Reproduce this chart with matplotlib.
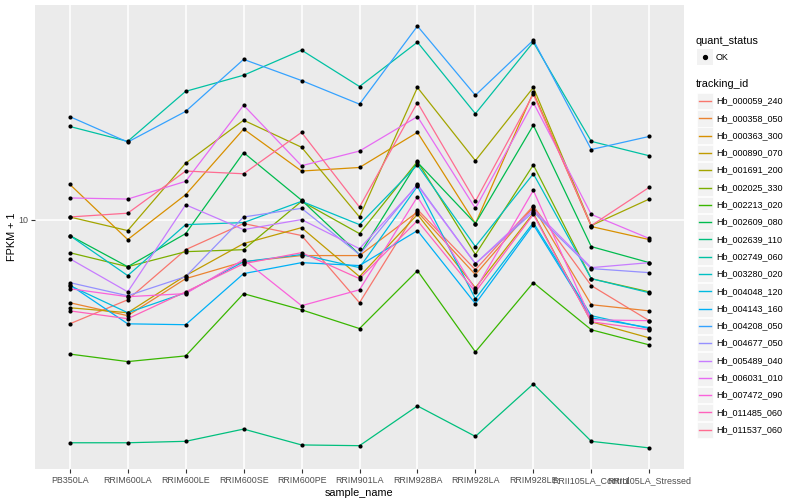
import matplotlib.pyplot as plt
import numpy as np
from matplotlib.lines import Line2D
from matplotlib.patches import Rectangle

plt.rcParams['font.family'] = ['Liberation Sans', 'DejaVu Sans']

# Samples on the x axis
samples = ['PB350LA', 'RRIM600LA', 'RRIM600LE', 'RRIM600SE', 'RRIM600PE',
           'RRIM901LA', 'RRIM928BA', 'RRIM928LA', 'RRIM928LE',
           'RRII105LA_Control', 'RRII105LA_Stressed']

tracking_ids = ['Hb_000059_240', 'Hb_000358_050', 'Hb_000363_300', 'Hb_000890_070',
                'Hb_001691_200', 'Hb_002025_330', 'Hb_002213_020', 'Hb_002609_080',
                'Hb_002639_110', 'Hb_002749_060', 'Hb_003280_020', 'Hb_004048_120',
                'Hb_004143_160', 'Hb_004208_050', 'Hb_004677_050', 'Hb_005489_040',
                'Hb_006031_010', 'Hb_007472_090', 'Hb_011485_060', 'Hb_011537_060']

# FPKM + 1 per gene, one value per sample
hb_000059_240 = [4.50, 5.41, 7.94, 9.70, 8.85, 5.29, 10.8, 6.81, 11.1, 6.03, 4.61]
hb_000358_050 = [5.29, 4.79, 6.36, 7.24, 7.59, 7.59, 10.6, 6.56, 11.0, 5.21, 4.97]
hb_000363_300 = [13.1, 8.58, 12.1, 20.0, 14.5, 14.9, 19.5, 9.70, 26.5, 9.48, 8.58]
hb_000890_070 = [5.09, 4.90, 6.51, 8.32, 9.40, 6.46, 10.4, 5.93, 10.5, 4.57, 4.04]
hb_001691_200 = [10.2, 9.19, 15.4, 21.4, 17.4, 10.2, 27.5, 15.7, 27.5, 9.55, 11.7]
hb_002025_330 = [7.76, 6.97, 7.82, 7.94, 11.5, 8.98, 15.6, 7.65, 15.2, 6.36, 5.75]
hb_002213_020 = [3.57, 3.37, 3.52, 5.67, 5.01, 4.34, 6.76, 3.63, 6.17, 4.30, 3.83]
hb_002609_080 = [8.85, 6.97, 8.98, 16.7, 11.6, 7.65, 15.5, 9.70, 20.6, 8.13, 7.19]
hb_002639_110 = [1.81, 1.81, 1.83, 2.01, 1.78, 1.77, 2.40, 1.90, 2.84, 1.83, 1.74]
hb_002749_060 = [20.4, 18.2, 26.7, 30.2, 36.6, 27.7, 38.9, 22.5, 38.9, 18.2, 16.3]
hb_003280_020 = [8.85, 6.51, 9.62, 9.77, 11.5, 9.62, 15.2, 8.13, 14.2, 6.36, 5.71]
hb_004048_120 = [6.03, 4.90, 5.71, 7.24, 7.65, 6.92, 12.9, 5.45, 9.77, 4.79, 4.34]
hb_004143_160 = [6.07, 4.50, 4.47, 6.61, 7.19, 7.03, 9.19, 5.25, 9.62, 4.71, 4.37]
hb_004208_050 = [22.0, 18.1, 22.9, 34.1, 29.0, 24.2, 44.0, 25.9, 39.5, 17.1, 18.9]
hb_004677_050 = [6.17, 5.58, 6.46, 10.2, 10.9, 7.65, 13.1, 7.13, 10.6, 6.87, 6.66]
hb_005489_040 = [7.41, 5.75, 11.2, 9.26, 10.0, 8.00, 13.0, 7.13, 10.8, 6.92, 7.19]
hb_006031_010 = [11.8, 11.7, 13.4, 24.0, 15.1, 16.9, 22.0, 10.9, 24.5, 10.4, 8.65]
hb_007472_090 = [5.89, 5.54, 5.67, 7.36, 5.17, 5.84, 11.9, 5.84, 12.5, 4.64, 4.61]
hb_011485_060 = [4.97, 4.68, 5.75, 7.13, 7.76, 6.36, 9.92, 5.75, 10.4, 4.57, 4.30]
hb_011537_060 = [10.2, 10.5, 14.5, 14.2, 19.5, 11.0, 24.5, 11.5, 26.1, 9.55, 12.8]

series = [hb_000059_240, hb_000358_050, hb_000363_300, hb_000890_070, hb_001691_200,
          hb_002025_330, hb_002213_020, hb_002609_080, hb_002639_110, hb_002749_060,
          hb_003280_020, hb_004048_120, hb_004143_160, hb_004208_050, hb_004677_050,
          hb_005489_040, hb_006031_010, hb_007472_090, hb_011485_060, hb_011537_060]

# ggplot default hue palette for 20 levels
colors = ['#F8766D', '#EA8331', '#D89000', '#C09B00', '#A3A500', '#7CAE00', '#39B600',
          '#00BB4E', '#00BF7D', '#00C1A3', '#00BFC4', '#00BAE0', '#00B0F6', '#35A2FF',
          '#9590FF', '#C77CFF', '#E76BF3', '#FA62DB', '#FF62BC', '#FF6C91']

fig = plt.figure(figsize=(8, 5), dpi=100)
ax = fig.add_axes([35 / 800, 31 / 500, 649 / 800, 464 / 500])
ax.set_facecolor('#EBEBEB')

x = np.arange(len(samples))
for vals, col in zip(series, colors):
    ax.plot(x, vals, color=col, lw=0.9, zorder=2)
for vals in series:
    ax.scatter(x, vals, color='black', s=9, zorder=3, linewidths=0)

ax.set_yscale('log')
allv = np.log10(np.concatenate(series))
pad = 0.05 * (allv.max() - allv.min())
ax.set_ylim(10 ** (allv.min() - pad), 10 ** (allv.max() + pad))
ax.set_xlim(-0.6, len(samples) - 0.4)
ax.set_yticks([10])
ax.set_yticklabels(['10'])
ax.yaxis.set_minor_locator(plt.NullLocator())
ax.set_xticks(x)
ax.set_xticklabels(samples)

ax.grid(True, color='white', lw=1.1)
ax.set_axisbelow(True)
for s in ax.spines.values():
    s.set_visible(False)
ax.tick_params(length=3, width=0.8, color='#333333', labelcolor='#4D4D4D',
               labelsize=6.4, pad=2)
ax.set_xlabel('sample_name', fontsize=7.8, labelpad=2)
ax.set_ylabel('FPKM + 1', fontsize=7.8)
ax.yaxis.set_label_coords(-18 / 649, 0.5)

# Legend drawn by hand, in figure pixels
W, H = 800, 500
def fx(px):
    return px / W
def fy(py):
    return 1 - py / H

fig.text(fx(696), fy(41), 'quant_status', fontsize=7.8, va='center', ha='left')
fig.patches.append(Rectangle((fx(697), fy(65)), 16 / W, 16 / H, transform=fig.transFigure,
                             facecolor='#F2F2F2', edgecolor='none'))
fig.lines.append(Line2D([fx(705)], [fy(57)], marker='o', ms=2.8, color='black',
                        transform=fig.transFigure))
fig.text(fx(716), fy(57), 'OK', fontsize=6.5, va='center', ha='left')

fig.text(fx(696), fy(84), 'tracking_id', fontsize=7.8, va='center', ha='left')
step = 17.3
for i, (name, col) in enumerate(zip(tracking_ids, colors)):
    cy = 101 + i * step
    fig.patches.append(Rectangle((fx(697), fy(cy + 8.2)), 16.4 / W, 16.4 / H,
                                 transform=fig.transFigure, facecolor='#F2F2F2',
                                 edgecolor='white', lw=0.5))
    fig.lines.append(Line2D([fx(699), fx(711)], [fy(cy), fy(cy)], color=col, lw=1.0,
                            transform=fig.transFigure))
    fig.text(fx(716), fy(cy), name, fontsize=6.5, va='center', ha='left')

fig.savefig('out.png', dpi=100)
